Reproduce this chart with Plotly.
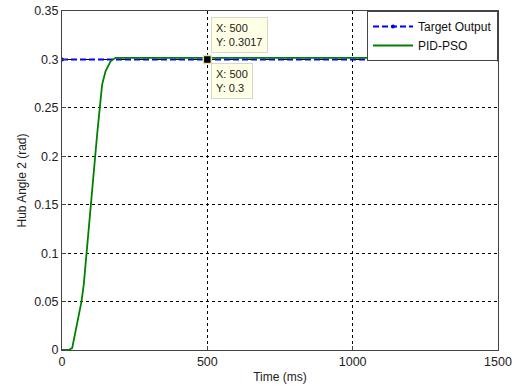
import plotly.graph_objects as go

# Data
target_t = [0, 1500]
target_y = [0.3, 0.3]

pid_t = [0, 23, 35, 46, 56, 67, 75, 84, 90, 98, 101, 113, 121, 130, 138, 150, 167, 184, 1500]
pid_y = [0, 0, 0.002, 0.018, 0.034, 0.05, 0.068, 0.1, 0.116, 0.149, 0.154, 0.2, 0.223,
         0.25, 0.274, 0.288, 0.298, 0.3017, 0.3017]

tip_x = 500
tip_y_pid = 0.3017
tip_y_target = 0.3

x_ticks = [0, 500, 1000, 1500]
y_ticks = [0, 0.05, 0.1, 0.15, 0.2, 0.25, 0.3, 0.35]
y_ticktext = ["0", "0.05", "0.1", "0.15", "0.2", "0.25", "0.3", "0.35"]

FONT = "Liberation Sans, Arial, sans-serif"

fig = go.Figure()
fig.add_trace(go.Scatter(
    x=target_t, y=target_y, name="Target Output", mode="lines+markers",
    line=dict(color="#0000ff", width=2, dash="6px,3px"),
    marker=dict(size=4, color="#0000ff"), cliponaxis=True))
fig.add_trace(go.Scatter(
    x=pid_t, y=pid_y, name="PID-PSO", mode="lines",
    line=dict(color="#008000", width=1.8)))
# datatip marker
fig.add_trace(go.Scatter(
    x=[tip_x], y=[tip_y_target], mode="markers", showlegend=False,
    marker=dict(symbol="square", size=8, color="black",
                line=dict(color="#e8e0b0", width=1.5))))

tip_style = dict(showarrow=False, align="left", bgcolor="#ffffe5",
                 bordercolor="#d8d8c8", borderwidth=1, borderpad=4,
                 font=dict(family=FONT, size=11, color="#222"))
fig.add_annotation(x=tip_x, y=tip_y_pid, xref="x", yref="y",
                   text=f"X: {tip_x}<br>Y: {tip_y_pid}",
                   xanchor="left", yanchor="bottom", xshift=4, yshift=5, **tip_style)
fig.add_annotation(x=tip_x, y=tip_y_target, xref="x", yref="y",
                   text=f"X: {tip_x}<br>Y: {tip_y_target}",
                   xanchor="left", yanchor="top", xshift=4, yshift=-4, **tip_style)

axis_common = dict(showline=True, linecolor="#444", linewidth=1, mirror=True,
                   ticks="inside", ticklen=4, tickcolor="#444", automargin=False,
                   ticklabeloverflow="allow",
                   showgrid=True, gridcolor="black", gridwidth=1, griddash="3px,3px",
                   zeroline=False, tickfont=dict(family=FONT, size=12.5, color="#222"))

fig.update_xaxes(range=[0, 1500], tickvals=x_ticks,
                 title=dict(text="Time (ms)", font=dict(family=FONT, size=12, color="#222"), standoff=4),
                 **axis_common)
fig.update_yaxes(range=[0, 0.35], tickvals=y_ticks, ticktext=y_ticktext,
                 title=dict(text="Hub Angle 2 (rad)", font=dict(family=FONT, size=12, color="#222"), standoff=4),
                 **axis_common)

fig.update_layout(
    width=512, height=392,
    margin=dict(l=62, r=14, t=11, b=42),
    paper_bgcolor="white", plot_bgcolor="white",
    showlegend=True,
    legend=dict(x=1, y=1, xanchor="right", yanchor="top",
                bgcolor="white", bordercolor="#444", borderwidth=1,
                font=dict(family=FONT, size=12, color="#111"),
                tracegroupgap=0, itemwidth=40),
)

fig.write_html("out.html")
